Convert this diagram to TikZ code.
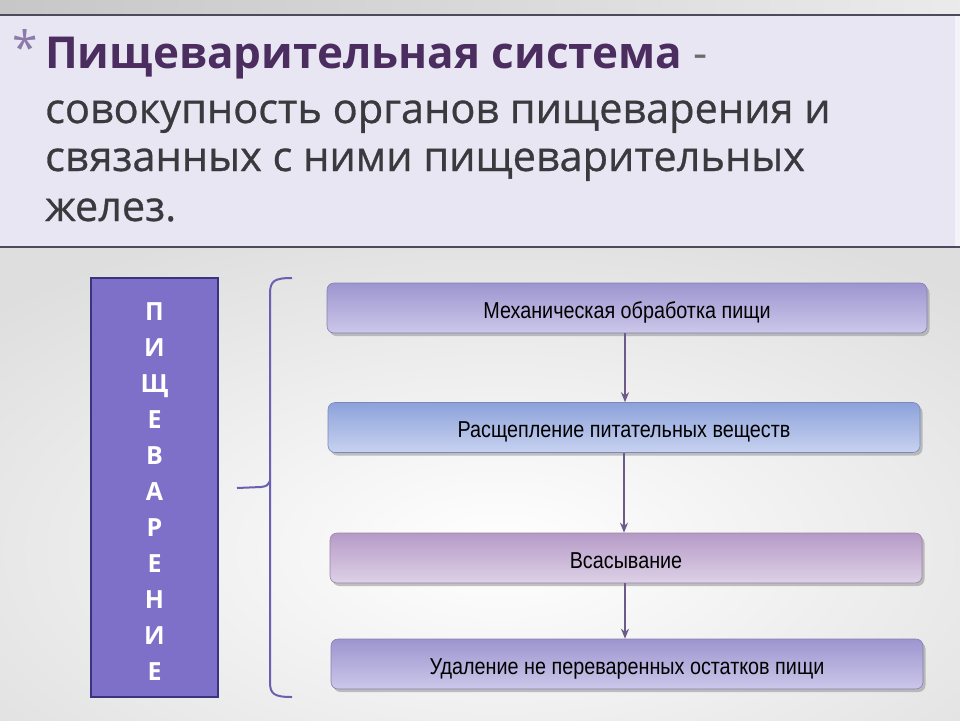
\documentclass[tikz,border=0pt]{standalone}
\usepackage{fontspec}
\setmainfont{Open Sans}
\newfontfamily\bodyfont[FakeBold=0.7]{Open Sans}
\newfontfamily\boxfont[FakeStretch=0.86]{Liberation Sans}
\usetikzlibrary{positioning,arrows.meta,shadows}
\definecolor{titleplum}{HTML}{4B2D5F}
\definecolor{starlilac}{HTML}{8C7BAA}
\definecolor{bodygray}{HTML}{3A3A3E}
\definecolor{panel}{HTML}{E9E6F3}
\definecolor{rule}{HTML}{4E4A5E}
\definecolor{wordfill}{HTML}{7E70C9}
\definecolor{wordline}{HTML}{3A3380}
\definecolor{bracecol}{HTML}{6A60B0}
\definecolor{arrowcol}{HTML}{6E5A88}
\definecolor{lilactop}{HTML}{9D95CF}
\definecolor{lilacbot}{HTML}{CCC7EA}
\definecolor{bluetop}{HTML}{8CA2DA}
\definecolor{bluebot}{HTML}{C8D2F0}
\definecolor{mauvetop}{HTML}{B69AC6}
\definecolor{mauvebot}{HTML}{DDD1E7}

\tikzset{
  stage/.style={rounded corners=7pt, draw=#1top!85!black, line width=0.6pt,
    top color=#1top, bottom color=#1bot,
    minimum height=50pt, inner sep=0pt, text height=20pt, text depth=0pt,
    drop shadow={shadow xshift=2.5pt, shadow yshift=-3pt, fill=black!40, opacity=0.6},
    font=\boxfont\fontsize{23}{26}\selectfont, text=black},
  headline/.style={anchor=base west, inner sep=0pt, font=\bodyfont\fontsize{41.5}{50}\selectfont, text=bodygray},
  flowarrow/.style={draw=arrowcol, line width=2pt, -{Stealth[length=10pt,width=8pt]}}
}

\begin{document}
\begin{tikzpicture}[x=1pt,y=-1pt]
% Background
\useasboundingbox (0,0) rectangle (960,720);
\shade[inner color=white, outer color=black!13] (-200,200) rectangle (1200,900);
\shade[left color=black!22, right color=black!8] (0,0) rectangle (960,15);
\fill[panel!50!white] (955,15) rectangle (960,247);
\fill[panel] (0,15) rectangle (955,247);
\draw[rule, line width=1.5pt] (0,15) -- (960,15);
\draw[rule, line width=1.5pt] (0,247) -- (960,247);

% Definition heading
\node[font=\fontsize{46}{46}\selectfont, text=starlilac, inner sep=0pt, anchor=base] (star) at (25,64) {*};
\node[headline, font=\bfseries\fontsize{44}{50}\selectfont] (line1) at (45,68)
  {{\color{titleplum}Пищеварительная система} {\mdseries\color{bodygray!75}-}};
\node[headline] (line2) at (45,123) {совокупность органов пищеварения и};
\node[headline] (line3) at (45,171) {связанных с ними пищеварительных};
\node[headline] (line4) at (45,221) {желез.};

% Vertical word
\node[draw=wordline, line width=1.2pt, fill=wordfill, minimum width=127pt, minimum height=419pt,
  inner sep=0pt] (word) at (154.5,487.5) {};
\node[text=white, align=center, inner sep=0pt,
  font=\bfseries\fontsize{25}{36}\selectfont] (letters) at (154.5,492)
  {П\\И\\Щ\\Е\\В\\А\\Р\\Е\\Н\\И\\Е};

% Brace
\draw[bracecol, line width=2pt]
  (292,278) .. controls (274,278) and (270,281) .. (270,294) -- (270,682)
  .. controls (270,694) and (274,697) .. (292,697);
\draw[bracecol, line width=2pt] (237,488) -- (261,487) .. controls (267,486) .. (270,481);

% Stages
\node[stage=lilac, minimum width=600pt] (b1) at (627,308) {Механическая обработка пищи};
\node[stage=blue, minimum width=592pt] (b2) at (624,427.5) {Расщепление питательных веществ};
\node[stage=mauve, minimum width=592pt] (b3) at (626,558) {Всасывание};
\node[stage=lilac, minimum width=592pt] (b4) at (627,664) {Удаление не переваренных остатков пищи};

\draw[flowarrow] ([xshift=-2pt]b1.south) -- ([xshift=-2pt]b1.south |- b2.north);
\draw[flowarrow] (b2.south) -- (b2.south |- b3.north);
\draw[flowarrow] ([xshift=-1pt]b3.south) -- ([xshift=-1pt]b3.south |- b4.north);
\end{tikzpicture}
\end{document}
